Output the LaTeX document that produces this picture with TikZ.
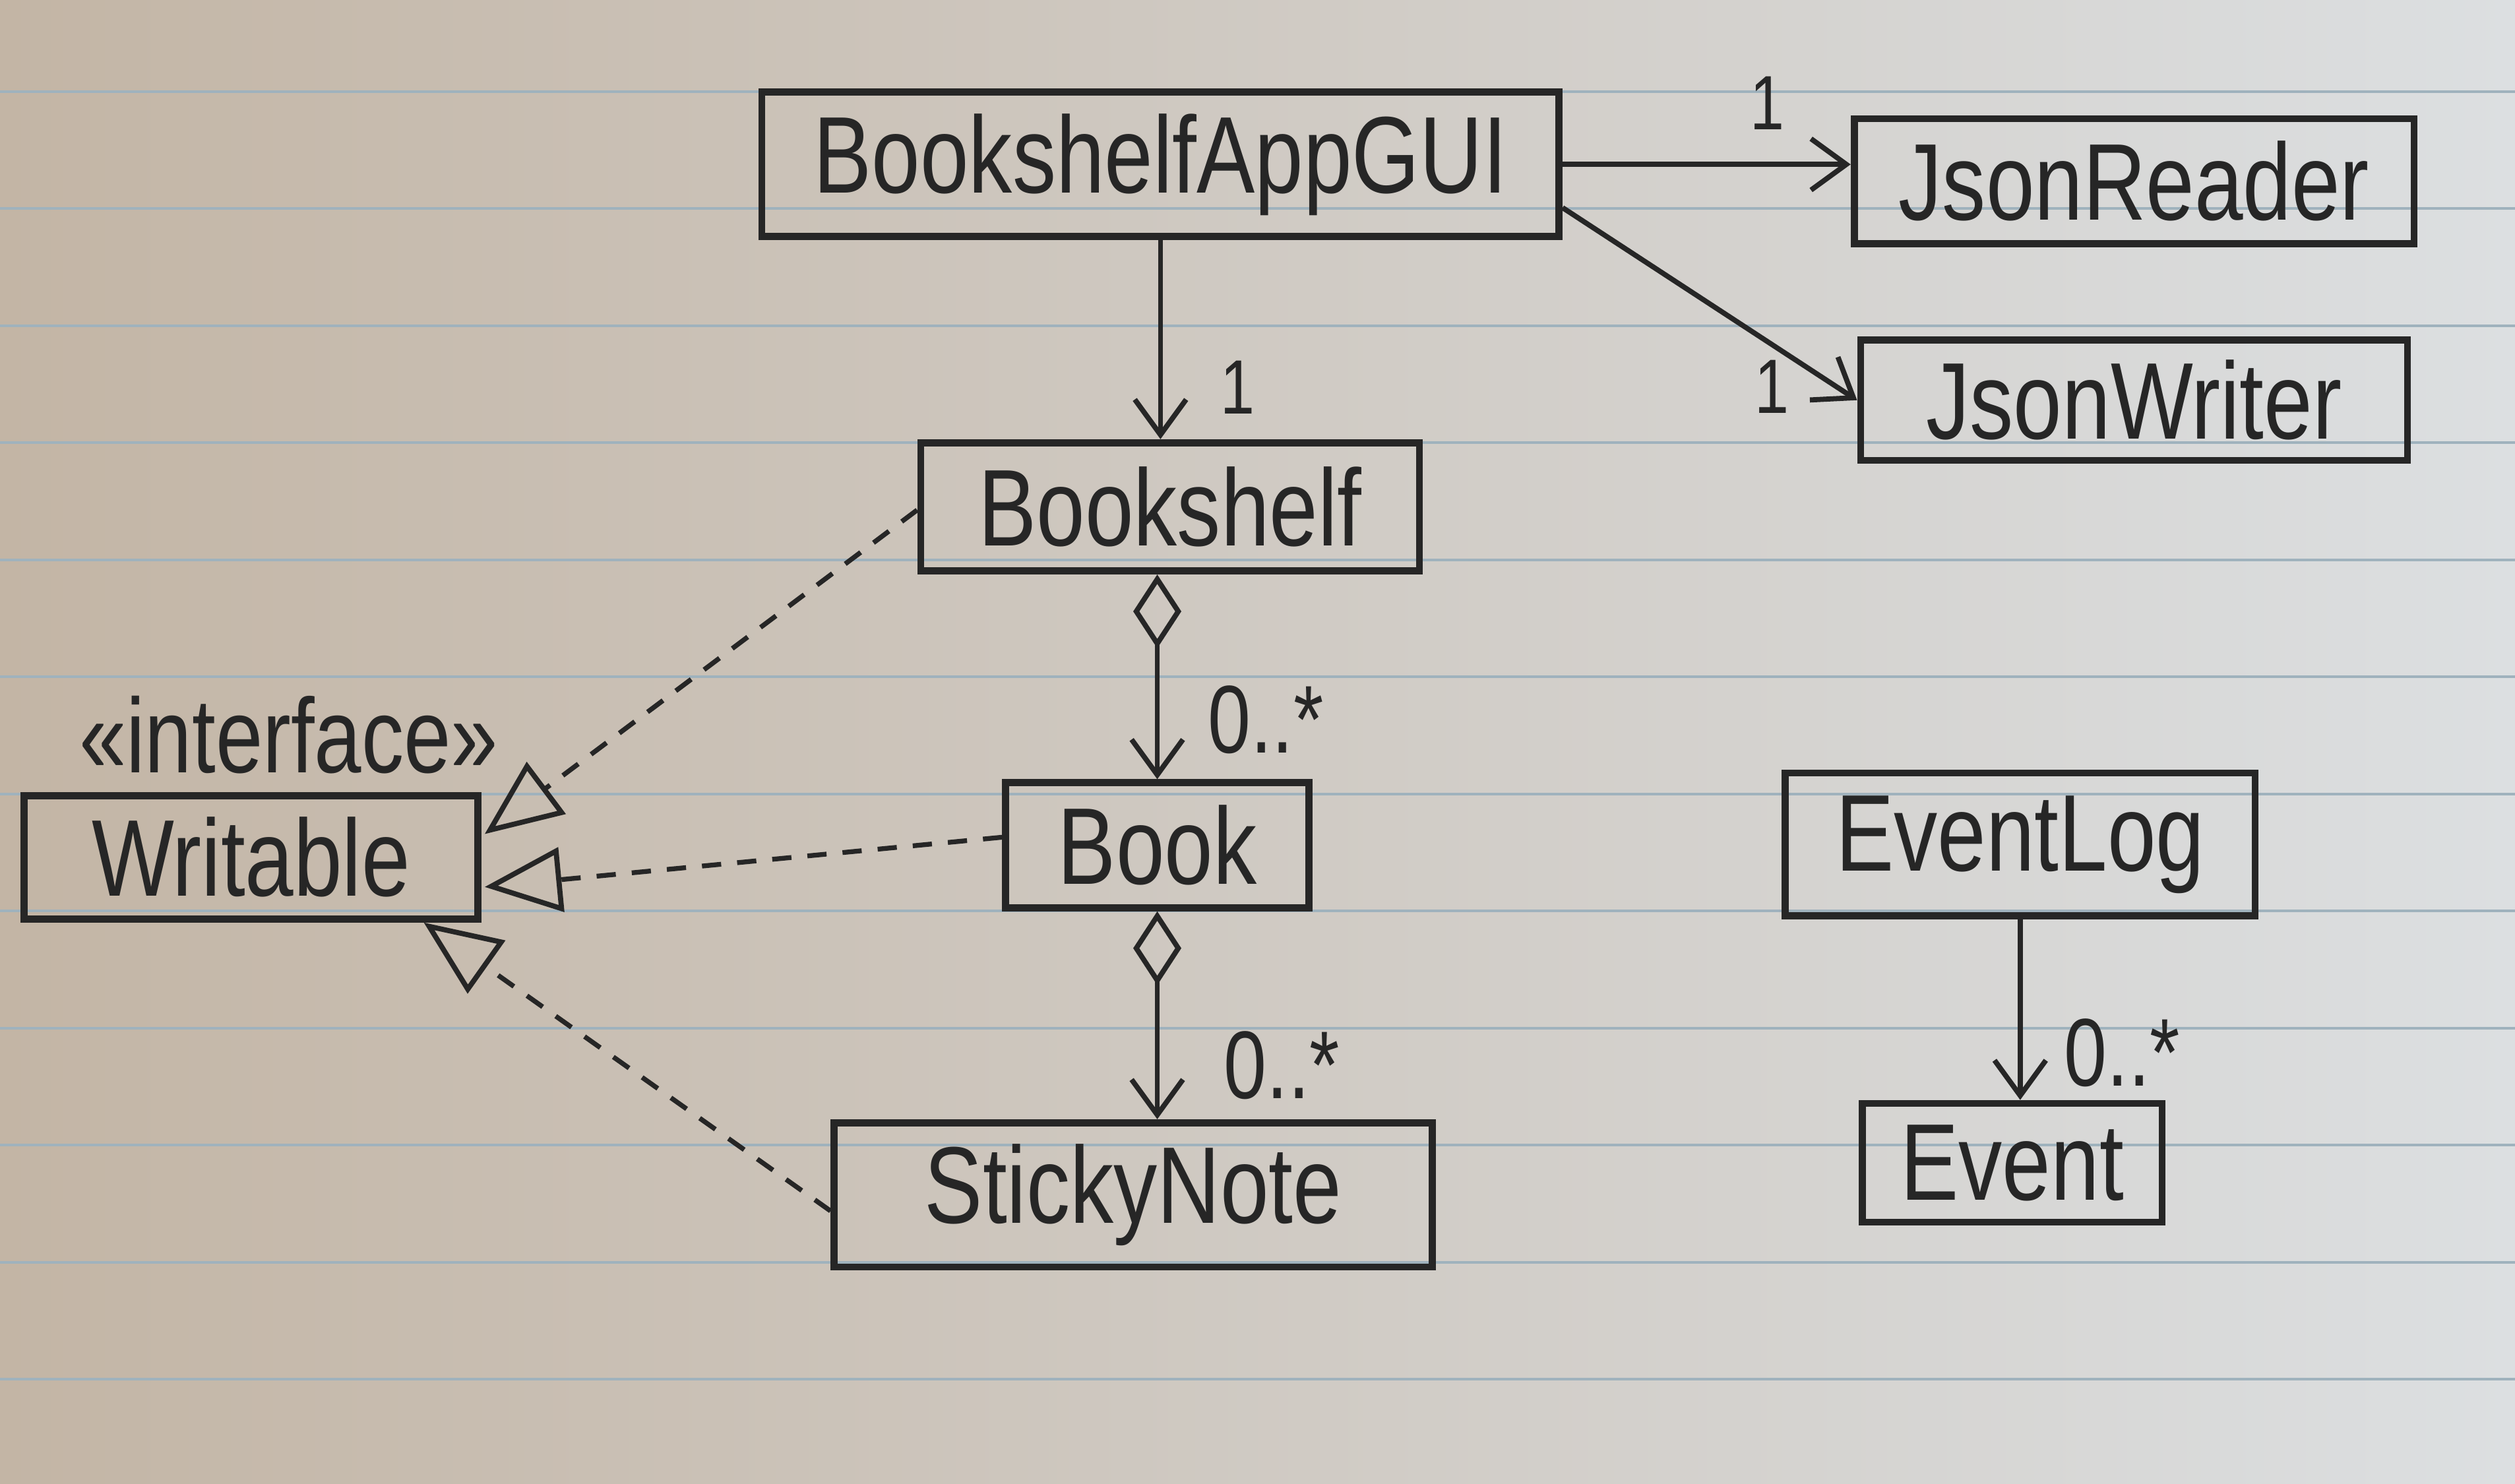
\documentclass[tikz,border=0pt]{standalone}
\usepackage{fontspec}
\setmainfont[FakeStretch=0.8]{Liberation Sans}
\usetikzlibrary{arrows.meta,calc}
\definecolor{ink}{HTML}{262626}
\definecolor{paperL}{HTML}{C3B5A5}
\definecolor{paperR}{HTML}{DCDFE1}
\definecolor{ruled}{HTML}{9FB2BD}
\begin{document}
\begin{tikzpicture}[x=0.5pt,y=-0.5pt,
  cls/.style={draw=ink, line width=2.2pt, inner sep=0pt, text=ink,
    font=\fontsize{34}{40}\selectfont},
  stereo/.style={inner sep=0pt, text=ink, font=\fontsize{33}{36}\selectfont},
  one/.style={inner sep=0pt, text=ink, font=\fontsize{24}{28}\selectfont},
  many/.style={inner sep=0pt, text=ink, font=\fontsize{30}{34}\selectfont},
  assoc/.style={draw=ink, line width=1.6pt,
    -{Straight Barb[length=11pt,width=16pt,line width=1.6pt]}},
  agg/.style={draw=ink, line width=1.6pt,
    {Diamond[open,length=23pt,width=15pt,line width=1.6pt]}-{Straight Barb[length=11pt,width=16pt,line width=1.6pt]}},
  realize/.style={draw=ink, line width=1.5pt, dash pattern=on 6pt off 5pt,
    -{Triangle[open,length=24pt,width=20pt,line width=1.6pt]}}
]
% paper
\useasboundingbox (0,0) rectangle (1568,925);
\fill[left color=paperL, right color=paperR] (0,0) rectangle (1568,925);
\foreach \k in {0,...,11}
  \draw[ruled, line width=0.8pt] (0,{57+73*\k}) -- (1568,{57+73*\k});

% classes
\node[cls, minimum width=248.5pt, minimum height=45pt] (gui) at (723.5,102.5) {BookshelfAppGUI};
\node[cls, minimum width=174.5pt, minimum height=39pt] (reader) at (1330.5,113) {JsonReader};
\node[cls, minimum width=170.5pt, minimum height=37.5pt] (writer) at (1330.5,249.5) {JsonWriter};
\node[cls, minimum width=155.5pt, minimum height=40pt] (shelf) at (729.5,316) {Bookshelf};
\node[cls, minimum width=94.5pt, minimum height=39pt] (book) at (721.5,527) {Book};
\node[cls, minimum width=186.5pt, minimum height=45pt] (sticky) at (706.5,745) {StickyNote};
\node[cls, minimum width=141.5pt, minimum height=38.5pt] (writable) at (156.5,534.5) {Writable};
\node[stereo] (iface) at (180,458) {«interface»};
\node[cls, minimum width=146.5pt, minimum height=44.5pt] (eventlog) at (1259.5,526.5) {EventLog};
\node[cls, minimum width=93.5pt, minimum height=37pt] (event) at (1254.5,725) {Event};

% associations
\draw[assoc] (gui.east) -- (gui.east -| reader.west)
  node[one, pos=0.71, above=10pt] (m1) {1};
\draw[assoc] ([shift={(0,27)}]gui.east) -- (writer.west)
  node[one, pos=0.93, left=14pt] (m2) {1};
\draw[assoc] (gui.south) -- (gui.south |- shelf.north)
  node[one, pos=0.74, right=18pt] (m3) {1};
\draw[agg] (book.north |- shelf.south) -- (book.north)
  node[many, pos=0.71, right=15pt] (m4) {0..*};
\draw[agg] (book.south) -- (book.south |- sticky.north)
  node[many, pos=0.74, right=20pt] (m5) {0..*};
\draw[assoc] (eventlog.south) -- (eventlog.south |- event.north)
  node[many, pos=0.74, right=13pt] (m6) {0..*};

% realizations
\draw[realize] ([shift={(0,2)}]shelf.west) -- ([shift={(2,-14.5)}]writable.east);
\draw[realize] ([shift={(0,-5)}]book.west) -- ([shift={(2,18.5)}]writable.east);
\draw[realize] ([shift={(0,10)}]sticky.west) -- ([shift={(-36,0)}]writable.south east);
\end{tikzpicture}
\end{document}
